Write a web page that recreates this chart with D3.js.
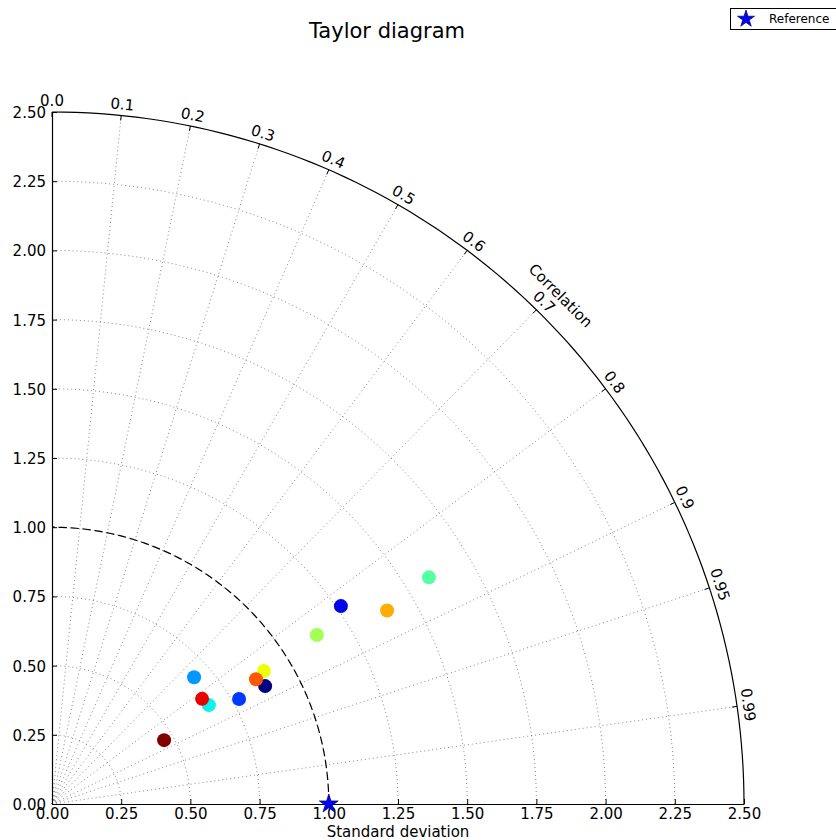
<!DOCTYPE html>
<html>
<head>
<meta charset="utf-8">
<script src="https://cdn.jsdelivr.net/npm/d3@7"></script>
<style>
  body { margin: 0; background: #fff; }
  text { font-family: "DejaVu Sans", sans-serif; fill: #000; }
</style>
</head>
<body>
<svg id="chart" width="836" height="840"></svg>
<script>
// samples: standard deviation and correlation
const sampleStd = [0.88, 1.265, 0.775, 0.688, 0.67, 1.589, 1.135, 0.904, 1.398, 0.864, 0.662, 0.466];
const sampleCorr = [0.875, 0.825, 0.872, 0.746, 0.846, 0.857, 0.843, 0.847, 0.866, 0.853, 0.819, 0.869];
const refStd = 1.0;

// axis ticks
const stdTicks = [0, 0.25, 0.5, 0.75, 1.0, 1.25, 1.5, 1.75, 2.0, 2.25, 2.5];
const corrTicks = [0.0, 0.1, 0.2, 0.3, 0.4, 0.5, 0.6, 0.7, 0.8, 0.9, 0.95, 0.99];
const corrLabels = ["0.0", "0.1", "0.2", "0.3", "0.4", "0.5", "0.6", "0.7", "0.8", "0.9", "0.95", "0.99"];
const stdMax = 2.5;

const svg = d3.select("#chart");

const x0 = 52, y0 = 804, R = 692;
const x = d3.scaleLinear().domain([0, stdMax]).range([x0, x0 + R]);
const y = d3.scaleLinear().domain([0, stdMax]).range([y0, y0 - R]);

// jet colormap, like matplotlib's
const jetR = d3.scaleLinear().domain([0, 0.35, 0.66, 0.89, 1]).range([0, 0, 1, 1, 0.5]).clamp(true);
const jetG = d3.scaleLinear().domain([0, 0.125, 0.375, 0.64, 0.91, 1]).range([0, 0, 1, 1, 0, 0]).clamp(true);
const jetB = d3.scaleLinear().domain([0, 0.11, 0.34, 0.65, 1]).range([0.5, 1, 1, 0, 0]).clamp(true);
const jet = t => d3.rgb(jetR(t) * 255, jetG(t) * 255, jetB(t) * 255).formatHex();

// polar helper: std + angle -> pixel
const px = (s, th) => x(s * Math.cos(th));
const py = (s, th) => y(s * Math.sin(th));

const grid = svg.append("g");

// std arcs
const arcAngles = d3.range(0, 91, 1).map(d => d * Math.PI / 180);
const arcLine = s => d3.line()
  .x(th => px(s, th))
  .y(th => py(s, th))(arcAngles);

grid.selectAll("path.std")
  .data(stdTicks.filter(d => d > 0 && d < stdMax))
  .join("path")
  .attr("class", "std")
  .attr("d", d => arcLine(d))
  .attr("fill", "none")
  .attr("stroke", "#555")
  .attr("stroke-width", 0.7)
  .attr("stroke-dasharray", "1,3");

// correlation radials
grid.selectAll("line.corr")
  .data(corrTicks.filter(d => d > 0))
  .join("line")
  .attr("class", "corr")
  .attr("x1", x(0)).attr("y1", y(0))
  .attr("x2", d => px(stdMax, Math.acos(d)))
  .attr("y2", d => py(stdMax, Math.acos(d)))
  .attr("stroke", "#555")
  .attr("stroke-width", 0.7)
  .attr("stroke-dasharray", "1,3");

// reference std arc
svg.append("path")
  .attr("d", arcLine(refStd))
  .attr("fill", "none")
  .attr("stroke", "#000")
  .attr("stroke-width", 1.2)
  .attr("stroke-dasharray", "8,4");

// outer arc
svg.append("path")
  .attr("d", arcLine(stdMax))
  .attr("fill", "none")
  .attr("stroke", "#000")
  .attr("stroke-width", 1.2);

// correlation ticks and labels
const ct = svg.append("g");
ct.selectAll("line")
  .data(corrTicks)
  .join("line")
  .attr("x1", d => x0 + (R - 5) * d)
  .attr("y1", d => y0 - (R - 5) * Math.sin(Math.acos(d)))
  .attr("x2", d => x0 + R * d)
  .attr("y2", d => y0 - R * Math.sin(Math.acos(d)))
  .attr("stroke", "#000");

ct.selectAll("text")
  .data(corrTicks)
  .join("text")
  .attr("transform", (d, i) => {
    const th = Math.acos(d);
    const lx = x0 + (R + 11) * Math.cos(th);
    const ly = y0 - (R + 11) * Math.sin(th);
    return `translate(${lx},${ly}) rotate(${90 - th * 180 / Math.PI})`;
  })
  .attr("text-anchor", "middle")
  .attr("dominant-baseline", "central")
  .attr("font-size", 15)
  .text((d, i) => corrLabels[i]);

{
  const th = Math.PI / 4;
  svg.append("text")
    .attr("transform", `translate(${x0 + (R + 27) * Math.cos(th)},${y0 - (R + 27) * Math.sin(th)}) rotate(45)`)
    .attr("text-anchor", "middle")
    .attr("dominant-baseline", "central")
    .attr("font-size", 15)
    .text("Correlation");
}

// axes
const fmt = d3.format(".2f");
const axL = svg.append("g")
  .attr("transform", `translate(${x0},0)`)
  .call(d3.axisLeft(y).tickValues(stdTicks).tickFormat(fmt).tickSizeInner(-5).tickSizeOuter(0).tickPadding(6));
const axB = svg.append("g")
  .attr("transform", `translate(0,${y0})`)
  .call(d3.axisBottom(x).tickValues(stdTicks).tickFormat(fmt).tickSizeInner(-5).tickSizeOuter(0).tickPadding(4));
[axL, axB].forEach(a => {
  a.select(".domain").attr("stroke-width", 1.2);
  a.selectAll(".tick text").attr("font-size", 15).attr("font-family", "DejaVu Sans, sans-serif").attr("fill", "#000");
});
axL.selectAll(".tick text").attr("dy", "0.36em");
axB.selectAll(".tick text").attr("dy", "0.72em");

svg.append("text")
  .attr("x", (x0 + x0 + R) / 2)
  .attr("y", 837)
  .attr("text-anchor", "middle")
  .attr("font-size", 15)
  .text("Standard deviation");

// samples
svg.append("g").selectAll("circle")
  .data(sampleStd)
  .join("circle")
  .attr("cx", (d, i) => px(d, Math.acos(sampleCorr[i])))
  .attr("cy", (d, i) => py(d, Math.acos(sampleCorr[i])))
  .attr("r", 7)
  .attr("fill", (d, i) => jet(i / (sampleStd.length - 1)));

// reference star
const star = d3.symbol(d3.symbolStar).size(110);
svg.append("path")
  .attr("d", star())
  .attr("transform", `translate(${x(refStd)},${y(0)})`)
  .attr("fill", "#0000ff")
  .attr("stroke", "#000060")
  .attr("stroke-width", 0.7);

// title
svg.append("text")
  .attr("x", 387)
  .attr("y", 38)
  .attr("text-anchor", "middle")
  .attr("font-size", 21)
  .text("Taylor diagram");

// legend
const lg = svg.append("g");
lg.append("rect")
  .attr("x", 730.5).attr("y", 8.5)
  .attr("width", 120).attr("height", 21)
  .attr("fill", "#fff")
  .attr("stroke", "#000");
lg.append("path")
  .attr("d", d3.symbol(d3.symbolStar).size(90)())
  .attr("transform", "translate(746,19)")
  .attr("fill", "#0000ff")
  .attr("stroke", "#000060")
  .attr("stroke-width", 0.7);
lg.append("text")
  .attr("x", 769)
  .attr("y", 23)
  .attr("font-size", 12)
  .text("Reference");
</script>
</body>
</html>
